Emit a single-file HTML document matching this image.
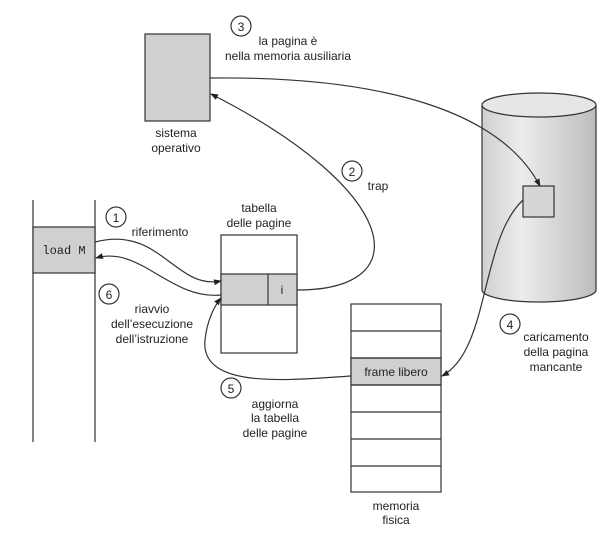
<!DOCTYPE html>
<html><head><meta charset="utf-8"><style>
body{margin:0;background:#fff;}
svg{display:block;font-family:"Liberation Sans",sans-serif;}
</style></head><body>
<svg width="610" height="534" viewBox="0 0 610 534" xmlns="http://www.w3.org/2000/svg">
<defs>
<marker id="a" markerWidth="8" markerHeight="8" refX="7" refY="4" orient="auto" markerUnits="userSpaceOnUse"><path d="M0,1 L8,4 L0,7 z" fill="#222"/></marker>
<linearGradient id="g" x1="0" x2="1"><stop offset="0" stop-color="#d0d0d0"/><stop offset="0.35" stop-color="#ececec"/><stop offset="1" stop-color="#bdbdbd"/></linearGradient>
</defs>
<g stroke="#333" stroke-width="1.2" fill="none">
<!-- cylinder -->
<path d="M482,105 L482,290 A57,12 0 0 0 596,290 L596,105" fill="url(#g)"/>
<ellipse cx="539" cy="105" rx="57" ry="12" fill="#e6e6e6"/>
<rect x="523" y="186" width="31" height="31" fill="#d6d6d6"/>
<!-- sistema -->
<rect x="145" y="34" width="65" height="87" fill="#d0d0d0"/>
<!-- program -->
<line x1="33" y1="200" x2="33" y2="442"/>
<line x1="95" y1="200" x2="95" y2="442"/>
<rect x="33" y="227" width="62" height="46" fill="#d0d0d0"/>
<!-- page table -->
<rect x="221" y="235" width="76" height="118" fill="#fff"/>
<rect x="221" y="274" width="76" height="31" fill="#d0d0d0"/>
<line x1="268" y1="274" x2="268" y2="305"/>
<!-- memory -->
<rect x="351" y="304" width="90" height="188" fill="#fff"/>
<rect x="351" y="358" width="90" height="27" fill="#d0d0d0"/>
<line x1="351" y1="331" x2="441" y2="331"/><line x1="351" y1="358" x2="441" y2="358"/>
<line x1="351" y1="385" x2="441" y2="385"/><line x1="351" y1="412" x2="441" y2="412"/>
<line x1="351" y1="439" x2="441" y2="439"/><line x1="351" y1="466" x2="441" y2="466"/>
<!-- arrows -->
<path d="M95,242 C160,225 175,290 221,281" marker-end="url(#a)"/>
<path d="M221,295 C170,300 140,245 96,258" marker-end="url(#a)"/>
<path d="M297,290 C420,290 400,190 211,94" marker-end="url(#a)"/>
<path d="M210,78 C380,76 500,110 540,186" marker-end="url(#a)"/>
<path d="M523,200 C480,240 490,350 442,376" marker-end="url(#a)"/>
<path d="M351,376 C290,380 200,390 205,340 C207,320 215,305 221,298" marker-end="url(#a)"/>
<!-- circles -->
<circle cx="241" cy="26" r="10" fill="#fff"/>
<circle cx="352" cy="171" r="10" fill="#fff"/>
<circle cx="116" cy="217" r="10" fill="#fff"/>
<circle cx="109" cy="294" r="10" fill="#fff"/>
<circle cx="231" cy="388" r="10" fill="#fff"/>
<circle cx="510" cy="324" r="10" fill="#fff"/>
</g>
<g font-size="12" fill="#222" text-anchor="middle">
<text x="241" y="31">3</text><text x="352" y="176">2</text><text x="116" y="222">1</text>
<text x="109" y="299">6</text><text x="231" y="393">5</text><text x="510" y="329">4</text>
<text x="288" y="45">la pagina è</text><text x="288" y="60">nella memoria ausiliaria</text>
<text x="176" y="137">sistema</text><text x="176" y="152">operativo</text>
<text x="378" y="190" >trap</text>
<text x="259" y="212">tabella</text><text x="259" y="227">delle pagine</text>
<text x="160" y="236">riferimento</text>
<text x="152" y="313">riavvio</text><text x="152" y="328">dell’esecuzione</text><text x="152" y="343">dell’istruzione</text>
<text x="275" y="408">aggiorna</text><text x="275" y="422">la tabella</text><text x="275" y="437">delle pagine</text>
<text x="556" y="341">caricamento</text><text x="556" y="356">della pagina</text><text x="556" y="371">mancante</text>
<text x="396" y="376">frame libero</text>
<text x="396" y="510">memoria</text><text x="396" y="524">fisica</text>
<text x="282" y="294">i</text>
<text x="64" y="254" font-family="Liberation Mono,monospace" font-size="12">load M</text>
</g>
</svg>
</body></html>
